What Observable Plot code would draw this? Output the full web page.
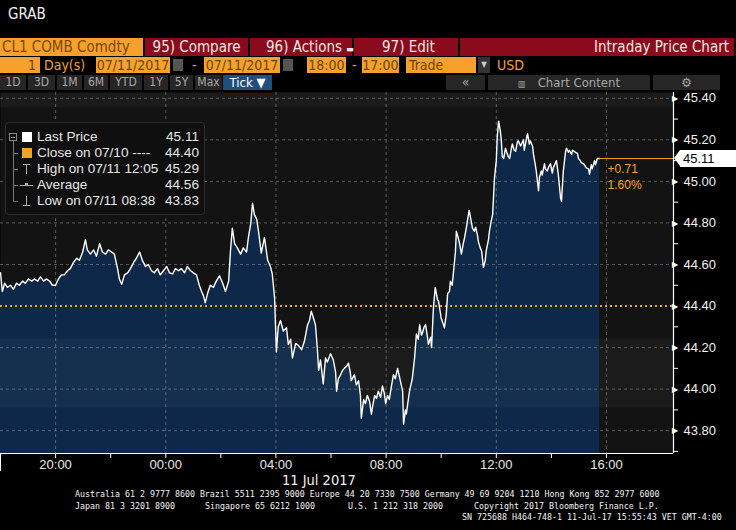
<!DOCTYPE html>
<html>
<head>
<meta charset="utf-8">
<script src="https://cdn.jsdelivr.net/npm/d3@7"></script>
<script src="https://cdn.jsdelivr.net/npm/@observablehq/plot@0.6"></script>
<style>
  html, body { margin: 0; padding: 0; background: #000; }
  body { width: 736px; height: 530px; position: relative; overflow: hidden; font-family: 'Liberation Sans', Arial, sans-serif; }
  .abs { position: absolute; box-sizing: border-box; white-space: nowrap; }
  .cond { font-family: 'DejaVu Sans Condensed', 'Liberation Sans Narrow', 'Liberation Sans', sans-serif; font-stretch: condensed; }
  .red { background: #8a0c1c; color: #f2e6e6; font-size: 15px; line-height: 18px; height: 18px; top: 38px; }
  .org { background: #f7a12c; color: #6e4300; font-size: 14px; line-height: 16px; height: 16px; top: 57px; }
  .otx { color: #f7a12c; font-size: 14px; line-height: 16px; top: 57px; }
  .btn { background: #262626; color: #a8a8a8; font-size: 12px; line-height: 15px; height: 15px; top: 75px; text-align: center; }
  .foot { font-family: 'DejaVu Sans Mono', monospace; font-size: 8.3px; color: #f4f4f4; line-height: 10px; }
  .leg { font-size: 13.6px; color: #e6e6e6; line-height: 16px; }
</style>
</head>
<body>
<div id="chart" class="abs" style="left:0;top:80px;"></div>
<script>
// ---------- data ----------
const sessionLabel = "CL1 COMB Comdty";
const prevClose = 44.40;
const lastPrice = 45.11;
const lastChange = "+0.71";
const lastChangePct = "1.60%";
// minutes since session open (18:00 on 07/10/2017)
const minutesFromOpen = [
  0,4,9,15,22,28,35,41,48,54,61,68,74,81,87,94,100,107,113,120,
  126,133,139,146,152,159,166,172,179,185,189,196,203,209,216,222,229,235,242,248,
  255,259,264,270,277,283,290,296,303,309,316,322,329,335,342,348,355,362,368,375,
  381,388,394,401,407,414,420,427,433,438,442,446,451,457,464,470,477,484,490,497,
  501,505,510,516,523,529,536,540,545,549,553,558,562,568,575,582,588,592,597,601,
  605,610,616,623,627,632,636,643,649,656,662,669,673,677,682,686,690,693,697,703,
  708,712,719,725,730,732,736,741,745,749,754,758,762,764,771,775,780,784,786,791,
  795,799,804,808,810,815,819,823,828,832,836,839,843,847,852,856,860,865,869,871,
  876,878,882,884,889,891,895,897,902,906,910,913,917,919,923,926,930,932,937,939,
  943,947,952,954,958,960,965,967,971,974,978,980,984,987,991,993,998,1000,1004,1008,
  1011,1015,1017,1021,1026,1028,1032,1035,1039,1041,1045,1048,1052,1056,1058,1063,1065,1069,1072,1076,
  1080,1082,1085,1089,1091,1093,1096,1100,1102,1106,1109,1113,1115,1119,1122,1126,1128,1133,1135,1139,
  1141,1146,1148,1152,1154,1159,1161,1165,1167,1172,1174,1178,1180,1185,1187,1191,1194,1198,1202,1204,
  1209,1211,1215,1220,1222,1226,1231,1233,1237,1239,1244,1246,1250,1252,1257,1259,1263,1265,1270,1272,
  1276,1281,1283,1287,1289,1294,1296,1300,1305
];
const prices = [
  44.56,44.47,44.51,44.49,44.50,44.48,44.51,44.50,44.52,44.51,44.53,44.52,44.53,44.52,44.54,44.52,44.53,44.52,44.50,44.50,
  44.53,44.55,44.55,44.57,44.58,44.61,44.63,44.62,44.66,44.72,44.67,44.65,44.67,44.64,44.70,44.66,44.65,44.67,44.66,44.65,
  44.58,44.53,44.505,44.55,44.56,44.58,44.61,44.63,44.66,44.62,44.59,44.60,44.57,44.56,44.58,44.55,44.57,44.59,44.56,44.555,
  44.58,44.57,44.58,44.56,44.59,44.57,44.56,44.55,44.50,44.47,44.45,44.415,44.46,44.50,44.49,44.52,44.545,44.51,44.47,44.52,
  44.665,44.775,44.70,44.68,44.65,44.68,44.66,44.73,44.795,44.895,44.84,44.82,44.76,44.655,44.73,44.62,44.59,44.555,44.44,44.18,
  44.30,44.33,44.28,44.295,44.215,44.24,44.15,44.22,44.21,44.19,44.23,44.31,44.33,44.375,44.34,44.31,44.20,44.09,44.14,44.025,
  44.15,44.13,44.17,44.14,44.08,43.99,44.05,44.07,44.09,44.10,44.11,44.125,44.08,44.04,44.07,44.02,44.04,43.97,43.86,43.95,
  43.93,43.97,43.94,43.88,43.91,43.97,43.955,43.99,43.96,44.015,43.98,43.93,43.97,43.95,44.02,44.07,44.05,44.10,44.06,44.04,
  43.99,43.83,43.90,43.88,43.96,43.99,44.03,44.05,44.15,44.265,44.24,44.31,44.26,44.27,44.30,44.31,44.25,44.215,44.25,44.20,
  44.39,44.49,44.43,44.425,44.37,44.34,44.31,44.295,44.36,44.46,44.47,44.52,44.50,44.57,44.66,44.76,44.72,44.70,44.65,44.70,
  44.73,44.78,44.81,44.86,44.80,44.775,44.76,44.78,44.74,44.71,44.68,44.665,44.585,44.62,44.665,44.72,44.76,44.81,44.84,45.015,
  45.10,45.21,45.29,45.24,45.195,45.12,45.11,45.16,45.145,45.12,45.11,45.16,45.18,45.15,45.145,45.19,45.195,45.17,45.18,45.20,
  45.15,45.21,45.23,45.18,45.195,45.17,45.13,45.08,45.05,44.955,45.02,45.05,45.03,45.085,45.06,45.05,45.07,45.085,45.04,45.065,
  45.09,45.10,45.035,44.92,44.905,45.05,45.145,45.16,45.14,45.15,45.13,45.15,45.145,45.14,45.135,45.11,45.10,45.09,45.085,45.08,
  45.065,45.06,45.035,45.08,45.06,45.10,45.08,45.11,45.11
];
const xTickLabels = ["20:00","00:00","04:00","08:00","12:00","16:00"];
const xMinorTickLabels = ["20:00","22:00","00:00","02:00","04:00","06:00","08:00","10:00","12:00","14:00","16:00"];
const yTicks = [43.80,44.00,44.20,44.40,44.60,44.80,45.00,45.20,45.40];
const yMinorTicks = [43.70,43.90,44.10,44.30,44.50,44.70,44.90,45.10,45.30];
const bandRanges = [[45.354,45.428],[43.908,44.241]];
const legendRows = [
  {label: "Last Price", value: "45.11"},
  {label: "Close on 07/10 ----", value: "44.40"},
  {label: "High on 07/11 12:05", value: "45.29"},
  {label: "Average", value: "44.56"},
  {label: "Low on 07/11 08:38", value: "43.83"}
];

// ---------- build ----------
const open = new Date(2017, 6, 10, 18, 0);
const data = minutesFromOpen.map((m, i) => ({time: new Date(+open + m * 60000), price: prices[i]}));
const toDate = s => { const [h, mi] = s.split(":").map(Number); return new Date(2017, 6, h >= 18 ? 10 : 11, h, mi); };
const xTicks = xTickLabels.map(toDate);
const xMinor = xMinorTickLabels.map(toDate);
const xDomain = [open, new Date(2017, 6, 11, 18, 26)];
const yDomain = [43.69, 45.428];
const lastTime = data[data.length - 1].time;
const bands = bandRanges.map(([a, b]) => ({y1: a, y2: b}));
const orange = "#f5a21c";
const svgTop = 80;

const chart = Plot.plot({
  width: 736, height: 392,
  marginTop: 12, marginLeft: 0, marginRight: 63, marginBottom: 19,
  style: {background: "transparent", color: "#eee", fontFamily: "'Liberation Sans', Arial, sans-serif"},
  x: {type: "time", domain: xDomain, axis: null},
  y: {domain: yDomain, axis: null},
  marks: [
    Plot.frame({fill: "#131313", stroke: null}),
    Plot.areaY(data, {x: "time", y1: yDomain[0], y2: "price", fill: "#0d2848"}),
    Plot.rect(bands, {y1: "y1", y2: "y2", fill: "#ffffff", fillOpacity: 0.035}),
    Plot.gridY(yTicks.filter(v => v !== prevClose), {stroke: "#a0a0a0", strokeOpacity: 0.5, strokeDasharray: "3,3"}),
    Plot.gridX(xTicks, {stroke: "#a0a0a0", strokeOpacity: 0.5, strokeDasharray: "3,3"}),
    Plot.ruleY([prevClose], {stroke: orange, strokeWidth: 2, strokeDasharray: "2,3"}),
    Plot.line(data, {x: "time", y: "price", stroke: "#ffffff", strokeWidth: 1.4}),
    Plot.ruleY([lastPrice], {x1: lastTime, x2: xDomain[1], stroke: orange, strokeWidth: 1}),
    Plot.text([lastChange], {x: lastTime, y: lastPrice, text: d => d, dx: 8, dy: 11, textAnchor: "start", fill: orange, fontSize: 12}),
    Plot.text([lastChangePct], {x: lastTime, y: lastPrice, text: d => d, dx: 8, dy: 27, textAnchor: "start", fill: orange, fontSize: 12}),
    Plot.ruleX([xDomain[1]], {stroke: "#ffffff", strokeWidth: 1.2}),
    Plot.ruleY([yDomain[0]], {stroke: "#ffffff", strokeWidth: 1.2}),
    Plot.axisY(yTicks, {anchor: "right", tickSize: 0, tickPadding: 10, tickFormat: d => d.toFixed(2), fontSize: 13, fill: "#f0f0f0"}),
    Plot.axisY(yMinorTicks, {anchor: "right", tickSize: 4, tickFormat: () => "", stroke: "#ffffff"}),
    Plot.text(yTicks, {y: d => d, text: () => "\u25B6", frameAnchor: "right", dx: 4, fontSize: 8, fill: "#ffffff"}),
    Plot.axisX(xMinor, {tickSize: 5, tickFormat: () => "", stroke: "#ffffff"}),
    Plot.axisX(xTicks, {tickSize: 0, tickPadding: 6, tickFormat: d3.timeFormat("%H:%M"), fontSize: 13, fill: "#e8e8e8"})
  ]
});
document.getElementById("chart").appendChild(chart);

// last price tag on the axis, placed by the y scale
const yPix = svgTop + chart.scale("y").apply(lastPrice);
const tag = document.createElement("div");
tag.className = "abs";
tag.style.cssText = `left:680px;top:${yPix - 8.5}px;width:56px;height:17px;background:#fff;color:#000;font-size:13px;line-height:17px;padding-left:3px;`;
tag.textContent = lastPrice.toFixed(2);
document.body.appendChild(tag);
const ptr = document.createElement("div");
ptr.className = "abs";
ptr.style.cssText = `left:674px;top:${yPix - 8.5}px;width:0;height:0;border-top:8.5px solid transparent;border-bottom:8.5px solid transparent;border-right:6px solid #fff;`;
document.body.appendChild(ptr);

// header
const H = [];
H.push(`<div class="abs" style="left:0;top:0;width:736px;height:38px;background:#000;"></div>`);
H.push(`<div class="abs cond" style="left:8px;top:5px;color:#f0f0f0;font-size:15px;">GRAB</div>`);
H.push(`<div class="abs cond red" style="left:0;width:143px;background:#f7a12c;color:#7a4800;padding-left:2px;">${sessionLabel}</div>`);
H.push(`<div class="abs cond red" style="left:145px;width:103px;text-align:center;">95) Compare</div>`);
H.push(`<div class="abs cond red" style="left:250px;width:102px;padding-left:16px;">96) Actions <span style="font-size:9px">&#9644;</span></div>`);
H.push(`<div class="abs cond red" style="left:354px;width:104px;padding-left:28px;">97) Edit <span style="font-size:9px;margin-left:34px">&#9644;</span></div>`);
H.push(`<div class="abs cond red" style="left:460px;width:274px;text-align:right;padding-right:5px;">Intraday Price Chart</div>`);
H.push(`<div class="abs" style="left:0;top:56px;width:736px;height:36px;background:#000;"></div>`);
H.push(`<div class="abs cond org" style="left:0;width:40px;text-align:right;padding-right:4px;">1</div>`);
H.push(`<div class="abs cond otx" style="left:44px;">Day(s)</div>`);
H.push(`<div class="abs cond org" style="left:96px;width:74px;text-align:center;">07/11/2017</div>`);
H.push(`<div class="abs" style="left:173px;top:59px;width:10px;height:12px;background:#555;"></div>`);
H.push(`<div class="abs cond otx" style="left:192px;">-</div>`);
H.push(`<div class="abs cond org" style="left:204px;width:76px;text-align:center;">07/11/2017</div>`);
H.push(`<div class="abs" style="left:283px;top:59px;width:10px;height:12px;background:#555;"></div>`);
H.push(`<div class="abs cond org" style="left:307px;width:39px;text-align:center;">18:00</div>`);
H.push(`<div class="abs cond otx" style="left:352px;">-</div>`);
H.push(`<div class="abs cond org" style="left:362px;width:37px;text-align:center;">17:00</div>`);
H.push(`<div class="abs cond org" style="left:406px;width:70px;padding-left:3px;">Trade</div>`);
H.push(`<div class="abs cond" style="left:478px;top:57px;width:12px;height:16px;background:#333;color:#ccc;font-size:8px;line-height:16px;text-align:center;">&#9660;</div>`);
H.push(`<div class="abs cond otx" style="left:497px;">USD</div>`);
const btns = [["1D",0,26],["3D",28,27],["1M",57,25],["6M",84,24],["YTD",110,32],["1Y",144,24],["5Y",170,23],["Max",195,27]];
btns.forEach(([t, l, w]) => H.push(`<div class="abs cond btn" style="left:${l}px;width:${w}px;">${t}</div>`));
H.push(`<div class="abs cond btn" style="left:223px;width:49px;background:#1f4f7e;color:#fff;font-size:13px;">Tick &#9660;</div>`);
H.push(`<div class="abs cond btn" style="left:446px;width:39px;font-size:14px;">&laquo;</div>`);
H.push(`<div class="abs cond btn" style="left:488px;width:162px;font-size:13px;"><span style="font-size:9px;margin-right:12px;">&#9637;</span>Chart Content</div>`);
H.push(`<div class="abs cond btn" style="left:653px;width:67px;font-size:13px;">&#9881;</div>`);
// legend
let leg = `<div class="abs" style="left:5px;top:122px;width:200px;height:93px;background:#0f0f0f;border:1px solid #2c2c2c;border-radius:4px;"></div>`;
leg += `<div class="abs" style="left:13px;top:138px;width:1px;height:63px;background:#777;"></div>`;
leg += `<div class="abs" style="left:9px;top:133px;width:8px;height:8px;border:1px solid #888;background:#0f0f0f;"></div>`;
leg += `<div class="abs" style="left:11px;top:137px;width:4px;height:1px;background:#999;"></div>`;
legendRows.forEach((r, i) => {
  const cy = 137 + i * 16;
  if (i > 0) leg += `<div class="abs" style="left:13px;top:${cy}px;width:5px;height:1px;background:#777;"></div>`;
  let icon = "";
  if (i === 0) icon = `<div class="abs" style="left:22px;top:${cy - 5}px;width:10px;height:10px;background:#fff;"></div>`;
  if (i === 1) icon = `<div class="abs" style="left:22px;top:${cy - 5}px;width:10px;height:10px;background:${orange};"></div>`;
  if (i === 2) icon = `<div class="abs" style="left:23px;top:${cy - 5}px;width:7px;height:1px;background:#aaa;"></div><div class="abs" style="left:26px;top:${cy - 5}px;width:1px;height:10px;background:#aaa;"></div>`;
  if (i === 3) icon = `<div class="abs" style="left:20px;top:${cy}px;width:13px;height:1px;background:#aaa;"></div><div class="abs" style="left:25px;top:${cy - 2}px;width:3px;height:3px;background:#aaa;"></div>`;
  if (i === 4) icon = `<div class="abs" style="left:23px;top:${cy + 4}px;width:7px;height:1px;background:#aaa;"></div><div class="abs" style="left:26px;top:${cy - 5}px;width:1px;height:10px;background:#aaa;"></div>`;
  leg += icon;
  leg += `<div class="abs leg" style="left:37px;top:${cy - 8}px;">${r.label}</div>`;
  leg += `<div class="abs leg" style="left:150px;width:49px;text-align:right;top:${cy - 8}px;">${r.value}</div>`;
});
H.push(leg);
// footer
H.push(`<div class="abs" style="left:0;top:453px;width:1px;height:18px;background:#fff;"></div>`);
H.push(`<div class="abs cond" style="left:282px;top:472px;color:#f0f0f0;font-size:14.5px;">11 Jul 2017</div>`);
H.push(`<div class="abs foot" style="left:75px;top:489px;">Australia 61 2 9777 8600 Brazil 5511 2395 9000 Europe 44 20 7330 7500 Germany 49 69 9204 1210 Hong Kong 852 2977 6000</div>`);
H.push(`<div class="abs foot" style="left:75px;top:501px;">Japan 81 3 3201 8900</div>`);
H.push(`<div class="abs foot" style="left:205px;top:501px;">Singapore 65 6212 1000</div>`);
H.push(`<div class="abs foot" style="left:348px;top:501px;">U.S. 1 212 318 2000</div>`);
H.push(`<div class="abs foot" style="left:474px;top:501px;">Copyright 2017 Bloomberg Finance L.P.</div>`);
H.push(`<div class="abs foot" style="left:462px;top:512px;">SN 725688 H464-748-1 11-Jul-17 15:55:43 VET  GMT-4:00</div>`);
document.body.insertAdjacentHTML("beforeend", H.join(""));
</script>
</body>
</html>
